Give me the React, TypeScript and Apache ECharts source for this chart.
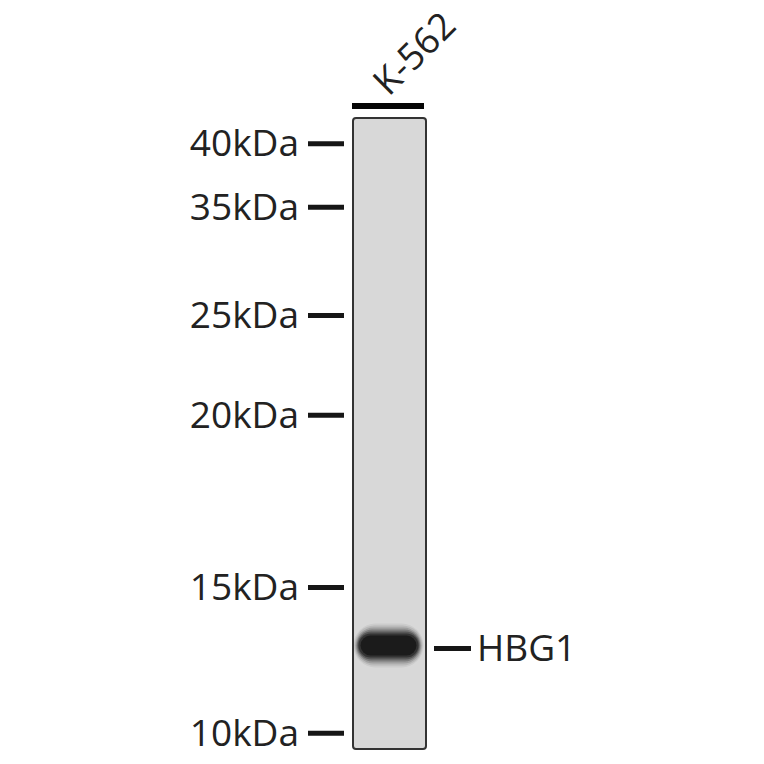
import React, { useEffect, useRef } from 'react';
import * as echarts from 'echarts';

// lane names (top labels)
const lanes = ['K-562'];
// marker ladder: label and relative migration (0 = top of lane, 1 = bottom)
const markerLabels = ['40kDa', '35kDa', '25kDa', '20kDa', '15kDa', '10kDa'];
const markerRf = [0.041, 0.1415, 0.313, 0.471, 0.744, 0.975];
// detected band(s)
const bandTargets = ['HBG1'];
const bandLane = [0];
const bandRf = [0.836];

const FONT = '"Open Sans", "Noto Sans", sans-serif';
const INK = '#161616';

const App: React.FC = () => {
  const chartRef = useRef<HTMLDivElement | null>(null);

  useEffect(() => {
    if (!chartRef.current) return;
    const chart = echarts.init(chartRef.current, undefined, { renderer: 'svg' });

    const option: echarts.EChartsOption = {
      animation: false,
      backgroundColor: '#ffffff',
      grid: { left: 353, top: 118, width: 73, height: 631 },
      xAxis: {
        type: 'category',
        data: lanes,
        position: 'top',
        axisLine: { show: false },
        axisTick: { show: false },
        axisLabel: { show: false },
        splitLine: { show: false },
      },
      yAxis: {
        type: 'value',
        min: 0,
        max: 1,
        inverse: true,
        show: false,
      },
      series: [
        {
          // lanes: gel strip, lane bar and lane label
          type: 'custom',
          data: lanes.map((name, i) => [i, name]),
          z: 1,
          renderItem: (params: any, api: any) => {
            const c0 = api.coord([api.value(0), 0]);
            const c1 = api.coord([api.value(0), 1]);
            const w = api.size([1, 0])[0];
            const name = lanes[params.dataIndex];
            return {
              type: 'group',
              children: [
                {
                  type: 'rect',
                  shape: { x: c0[0] - w / 2, y: c0[1], width: w, height: c1[1] - c0[1], r: 3 },
                  style: { fill: '#d8d8d8', stroke: '#333333', lineWidth: 2 },
                },
                {
                  type: 'rect',
                  shape: { x: c0[0] - w / 2 - 1, y: c0[1] - 15, width: w - 1, height: 6 },
                  style: { fill: '#050505' },
                },
                {
                  type: 'text',
                  x: c0[0] + 2,
                  y: c0[1] - 18,
                  rotation: Math.PI / 4,
                  style: {
                    text: name,
                    fill: '#222',
                    font: `37px ${FONT}`,
                    align: 'left',
                    verticalAlign: 'bottom',
                  },
                },
              ],
            };
          },
        },
        {
          // marker ladder ticks + labels
          type: 'custom',
          data: markerRf.map((rf, i) => [0, rf, i]),
          z: 2,
          renderItem: (params: any, api: any) => {
            const c = api.coord([0, api.value(1)]);
            const w = api.size([1, 0])[0];
            const left = c[0] - w / 2;
            const label = markerLabels[params.dataIndex];
            return {
              type: 'group',
              children: [
                {
                  type: 'line',
                  shape: { x1: left - 45, y1: c[1], x2: left - 9, y2: c[1] },
                  style: { stroke: INK, lineWidth: 5 },
                },
                {
                  type: 'text',
                  x: left - 54,
                  y: c[1] - 2,
                  style: {
                    text: label,
                    fill: '#222',
                    font: `37px ${FONT}`,
                    align: 'right',
                    verticalAlign: 'middle',
                  },
                },
              ],
            };
          },
        },
        {
          // bands with target labels
          type: 'custom',
          data: bandRf.map((rf, i) => [bandLane[i], rf]),
          z: 3,
          renderItem: (params: any, api: any) => {
            const c = api.coord([api.value(0), api.value(1)]);
            const w = api.size([1, 0])[0];
            const right = c[0] + w / 2;
            const label = bandTargets[params.dataIndex];
            const layers = [
              { bw: 70, bh: 44, r: 22, o: 0.06 },
              { bw: 68, bh: 40, r: 20, o: 0.1 },
              { bw: 66, bh: 36, r: 18, o: 0.16 },
              { bw: 64, bh: 32, r: 16, o: 0.24 },
              { bw: 62, bh: 28, r: 14, o: 0.34 },
              { bw: 60, bh: 24, r: 12, o: 0.5 },
              { bw: 56, bh: 20, r: 10, o: 0.7 },
            ];
            return {
              type: 'group',
              children: [
                ...layers.map((l) => ({
                  type: 'rect',
                  shape: { x: c[0] - l.bw / 2 - 1, y: c[1] - l.bh / 2, width: l.bw, height: l.bh, r: l.r },
                  style: { fill: '#111111', opacity: l.o },
                })),
                {
                  type: 'line',
                  shape: { x1: right + 8, y1: c[1] + 3, x2: right + 45, y2: c[1] + 3 },
                  style: { stroke: INK, lineWidth: 5 },
                },
                {
                  type: 'text',
                  x: right + 51,
                  y: c[1] + 1,
                  style: {
                    text: label,
                    fill: '#222',
                    font: `37px ${FONT}`,
                    align: 'left',
                    verticalAlign: 'middle',
                  },
                },
              ],
            };
          },
        },
      ],
    };

    chart.setOption(option);
    return () => {
      chart.dispose();
    };
  }, []);

  return (
    <div
      ref={chartRef}
      style={{ position: 'fixed', left: 0, top: 0, width: 764, height: 764 }}
    ></div>
  );
};

export default App;
